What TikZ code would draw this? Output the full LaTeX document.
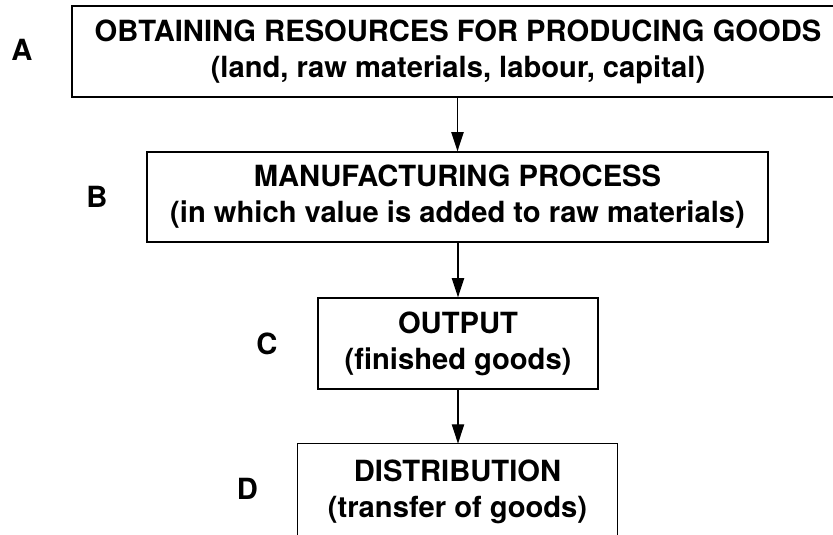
\documentclass[tikz,border=0pt]{standalone}
\usepackage{fontspec}
\setmainfont{TeX Gyre Heros}
\usetikzlibrary{arrows.meta}

\begin{document}
\begin{tikzpicture}[scale=0.2]
	\tikzstyle{every node}+=[inner sep=0pt, font=\fontsize{16.6}{20.5}\selectfont\bfseries]
	\tikzstyle{stage}=[draw, line width=0.75pt, align=center]
	\tikzstyle{flow}=[line width=0.75pt, -{Triangle[length=11pt,width=7pt]}]
	\useasboundingbox (0,0) rectangle (83.3,-53.4);
	% stages
	\node [stage, minimum width=15.44cm, minimum height=1.82cm] (obtain) at (45.8,-5.15) {OBTAINING RESOURCES FOR PRODUCING GOODS\\(land, raw materials, labour, capital)};
	\node [stage, minimum width=12.42cm, minimum height=1.8cm] (manuf) at (45.75,-19.7) {MANUFACTURING PROCESS\\(in which value is added to raw materials)};
	\node [stage, minimum width=5.6cm, minimum height=1.82cm] (output) at (45.8,-34.35) {OUTPUT\\(finished goods)};
	\node [align=center, minimum width=6.38cm, minimum height=1.92cm] (distr) at (45.75,-49.2) {DISTRIBUTION\\(transfer of goods)};
	\draw [line width=0.75pt] ([yshift=-5mm]distr.south west) -- (distr.north west) -- (distr.north east) -- ([yshift=-5mm]distr.south east);
	% letters
	\node (lblA) at (2.2,-5.0) {A};
	\node (lblB) at (9.7,-19.7) {B};
	\node (lblC) at (26.7,-34.4) {C};
	\node (lblD) at (24.75,-48.9) {D};
	% arrows
	\draw [flow] (obtain.south -| manuf.north) -- (manuf.north);
	\draw [flow] (manuf.south -| output.north) -- (output.north);
	\draw [flow] (output.south) -- (output.south |- distr.north);
\end{tikzpicture}
\end{document}
